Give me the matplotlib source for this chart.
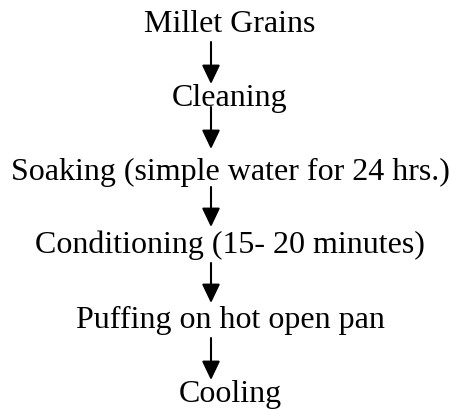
import matplotlib
matplotlib.use("Agg")
import matplotlib.pyplot as plt

steps = ["Millet Grains", "Cleaning", "Soaking (simple water for 24 hrs.)",
         "Conditioning (15- 20 minutes)", "Puffing on hot open pan", "Cooling"]

# layout (pixel coordinates)
W, H = 450, 409
text_x = 230
baselines = [32, 106, 180, 253, 328, 402]
arrow_x = 211
arrow_spans = [(42, 84), (107, 149), (187, 227), (263, 303), (338, 380)]

fig = plt.figure(figsize=(W / 100, H / 100), dpi=100)
ax = fig.add_axes([0, 0, 1, 1])
ax.set_xlim(0, W)
ax.set_ylim(H, 0)
ax.axis("off")

for s, y in zip(steps, baselines):
    ax.text(text_x, y, s, ha="center", va="baseline",
            fontfamily="Liberation Serif", fontsize=23, color="black")

for y0, y1 in arrow_spans:
    ax.annotate("", xy=(arrow_x, y1), xytext=(arrow_x, y0),
                arrowprops=dict(arrowstyle="-|>,head_width=0.55,head_length=1.15",
                                lw=1.5, color="black", shrinkA=0, shrinkB=0))

fig.savefig("out.png", dpi=100)
